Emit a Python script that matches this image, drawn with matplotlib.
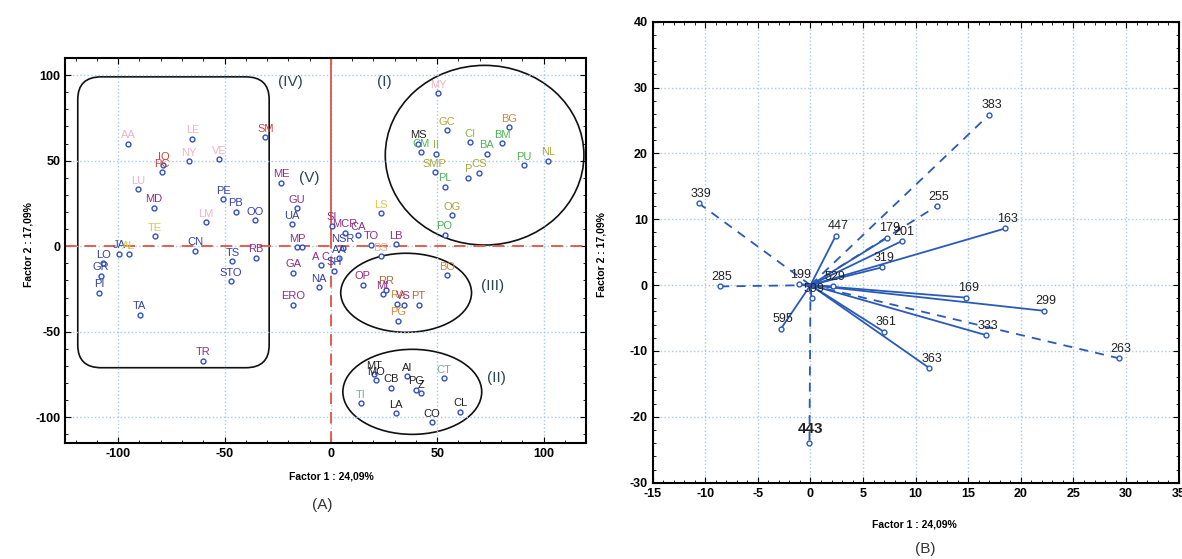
import matplotlib.pyplot as plt
from matplotlib.patches import Ellipse, FancyBboxPatch
from matplotlib.ticker import MultipleLocator

plt.rcParams['font.family'] = ['Liberation Sans', 'DejaVu Sans']
plt.rcParams['axes.unicode_minus'] = False

# ---- panel (A): factor scores of the samples
names_a = ['AA', 'LE', 'SM', 'IO', 'PC', 'NY', 'VE', 'LU', 'MD', 'PE',
           'PB', 'OO', 'LM', 'TE', 'JA', 'AL', 'CN', 'TS', 'RB', 'STO',
           'LO', 'GR', 'PI', 'TA', 'TR', 'ME', 'GU', 'UA', 'MP', '',
           'GA', 'ERO', 'A C', 'NA', 'SI', 'MCR', 'CA', 'TO', 'LB', 'NSR',
           'AA', 'SH', 'BS', 'LS', 'MY', 'BG', 'GC', 'MS', 'CM', 'CI',
           'BM', 'II', 'BA', 'NL', 'PU', 'SMP', 'CS', 'P', 'PL', 'OG',
           'PO', 'BO', 'OP', 'RR', 'MI', 'RA', 'PT', 'VS', 'PG', 'MT',
           'MO', 'AI', 'CB', 'PG', 'Z', 'CT', 'TI', 'LA', 'CO', 'CL']
fx_a = [-95.3, -65.1, -30.8, -78.7, -79.3, -66.8, -52.4, -90.6, -83.1, -50.6,
        -44.7, -35.8, -58.8, -82.6, -99.4, -95.0, -63.7, -46.3, -35.2, -46.9,
        -107.0, -108.0, -108.8, -89.8, -60.2, -23.3, -16.1, -18.3, -15.8, -13.5,
        -17.7, -17.7, -4.5, -5.5, 0.5, 6.6, 12.8, 19.1, 30.5, 5.5,
        4.0, 1.6, 23.5, 23.5, 50.5, 83.7, 54.6, 41.0, 42.6, 65.3,
        80.6, 49.6, 73.2, 102.0, 90.8, 48.8, 69.5, 64.6, 53.7, 57.0,
        53.5, 54.6, 14.9, 26.1, 24.3, 31.3, 41.3, 34.3, 31.6, 20.2,
        21.1, 35.8, 28.3, 40.2, 42.6, 53.0, 14.1, 30.7, 47.4, 60.9]
fy_a = [59.8, 62.8, 63.7, 47.2, 43.3, 49.7, 50.9, 33.2, 22.4, 27.5,
        20.1, 15.2, 14.0, 5.7, -4.3, -4.7, -2.7, -8.8, -6.8, -20.5,
        -10.0, -17.2, -27.3, -40.0, -66.9, 37.0, 22.2, 13.0, -0.6, -0.6,
        -15.6, -34.3, -11.0, -24.0, 12.0, 8.0, 6.3, 0.8, 1.3, -1.0,
        -7.0, -14.2, -5.8, 19.3, 89.5, 69.4, 67.8, 60.0, 55.0, 60.8,
        60.2, 54.0, 54.0, 50.1, 47.2, 43.3, 42.9, 40.0, 34.9, 18.0,
        6.6, -16.8, -22.4, -25.5, -28.2, -33.7, -34.3, -34.1, -43.5, -74.7,
        -78.2, -76.0, -82.6, -83.8, -85.8, -77.0, -91.8, -97.7, -102.9, -96.7]
grp_a = ['pale', 'pale', 'red', 'red', 'red', 'pale', 'pale', 'pale', 'mag', 'blue',
         'blue', 'blue', 'pale', 'yel', 'blue', 'yel', 'blue', 'blue', 'mag', 'blue',
         'blue', 'blue', 'blue', 'blue', 'mag', 'mag', 'mag', 'blue', 'mag', 'mag',
         'mag', 'mag', 'mag', 'blue', 'mag', 'mag', 'mag', 'mag', 'mag', 'blue',
         'blue', 'blue', 'porg', 'yel', 'pale', 'org', 'olive', 'blk', 'grn', 'lime',
         'grn', 'lime', 'grn', 'olive', 'grn', 'olive', 'olive', 'olive', 'grn', 'olive',
         'grn', 'org', 'mag', 'brn', 'mag', 'org', 'brn', 'mag', 'org', 'blk',
         'blk', 'blk', 'blk', 'blk', 'blk', 'teal', 'teal', 'blk', 'blk', 'blk']

# groups drawn on panel (A)
group_names = ['(IV)', '(I)', '(V)', '(III)', '(II)']
group_x = [-19, 25, -10, 76, 78]
group_y = [96, 96, 40, -23, -77]

# ---- panel (B): variable loadings
names_b = ['383', '255', '163', '339', '447', '179', '201', '319', '285', '199',
           '529', '599', '595', '361', '363', '443', '169', '299', '333', '263']
fx_b = [17.0, 12.0, 18.5, -10.6, 2.4, 7.3, 8.7, 6.8, -8.6, -1.1,
        2.1, 0.1, -2.8, 7.0, 11.3, -0.1, 14.8, 22.2, 16.7, 29.3]
fy_b = [25.9, 12.0, 8.6, 12.4, 7.5, 7.2, 6.7, 2.7, -0.2, 0.15,
        -0.2, -2.0, -6.6, -7.1, -12.6, -23.9, -1.9, -3.9, -7.6, -11.1]
dashed_b = [True, True, False, True, False, False, False, False, True, False,
            False, False, False, False, False, True, False, False, False, True]

cols = {'blue': '#3441a6', 'mag': '#8e2f86', 'red': '#c8453a', 'pale': '#eeb4c4',
        'yel': '#d8cc44', 'olive': '#a9a53a', 'grn': '#4db356', 'lime': '#8cbc3a',
        'org': '#d0883a', 'brn': '#b06a3a', 'blk': '#222222', 'teal': '#7fa8a8',
        'porg': '#eab090'}
mk_col = '#3050c0'
grid_col = '#a8c8e8'

fig = plt.figure(figsize=(11.82, 5.59), dpi=100)

# ================= panel A
ax = fig.add_axes([0.055, 0.2075, 0.4408, 0.6887])
ax.set_xlim(-125, 120)
ax.set_ylim(-115, 110)
ax.xaxis.set_major_locator(MultipleLocator(50))
ax.yaxis.set_major_locator(MultipleLocator(50))
ax.xaxis.set_minor_locator(MultipleLocator(10))
ax.yaxis.set_minor_locator(MultipleLocator(10))
ax.grid(True, which='major', color=grid_col, linestyle=':', linewidth=1)
ax.tick_params(which='both', direction='in', top=True, right=True, labelsize=9)
ax.tick_params(which='major', length=4)
ax.tick_params(which='minor', length=2.5)
for lab in ax.get_xticklabels() + ax.get_yticklabels():
    lab.set_fontweight('bold')
for s in ax.spines.values():
    s.set_linewidth(1.5)

ax.axhline(0, color='#e06050', linestyle='--', linewidth=1.4, dashes=(6, 4))
ax.plot([0, 0], [0, 110], color='#e06050', linewidth=1.4)
ax.plot([0, 0], [-115, 0], color='#e06050', linewidth=1.4, linestyle='--', dashes=(6, 4))

# cluster outlines
ax.add_patch(FancyBboxPatch((-119, -71), 90, 170,
                            boxstyle='round,pad=0,rounding_size=11', mutation_aspect=1.2,
                            fill=False, edgecolor='#111111', linewidth=1.2))
ax.add_patch(Ellipse((72.3, 53.2), 93.4, 105, fill=False, edgecolor='#111111', linewidth=1.2))
ax.add_patch(Ellipse((35.4, -27.2), 61.5, 46.2, fill=False, edgecolor='#111111', linewidth=1.2))
ax.add_patch(Ellipse((38.3, -85.1), 65.3, 49.7, fill=False, edgecolor='#111111', linewidth=1.2))

ax.plot(fx_a, fy_a, 'o', markersize=3.5, markerfacecolor='white',
        markeredgecolor=mk_col, markeredgewidth=1.0, linestyle='none')
for n, x, y, g in zip(names_a, fx_a, fy_a, grp_a):
    ax.annotate(n, (x, y), xytext=(0, 2.5), textcoords='offset points',
                ha='center', va='bottom', fontsize=8, color=cols[g])
for n, x, y in zip(group_names, group_x, group_y):
    ax.text(x, y, n, ha='center', va='center', fontsize=11, color='#2a4450')

# ================= panel B
bx = fig.add_axes([0.5522, 0.1365, 0.445, 0.8247])
bx.set_xlim(-15, 35)
bx.set_ylim(-30, 40)
bx.xaxis.set_major_locator(MultipleLocator(5))
bx.yaxis.set_major_locator(MultipleLocator(10))
bx.xaxis.set_minor_locator(MultipleLocator(1))
bx.yaxis.set_minor_locator(MultipleLocator(2))
bx.grid(True, which='major', color=grid_col, linestyle=':', linewidth=1)
bx.tick_params(which='both', direction='in', top=True, right=True, labelsize=9)
bx.tick_params(which='major', length=4)
bx.tick_params(which='minor', length=2.5)
for lab in bx.get_xticklabels() + bx.get_yticklabels():
    lab.set_fontweight('bold')
for s in bx.spines.values():
    s.set_linewidth(1.5)

line_col = '#2a5ab8'
for n, x, y, d in zip(names_b, fx_b, fy_b, dashed_b):
    if d:
        bx.plot([0, x], [0, y], color=line_col, linewidth=1.3, linestyle='--', dashes=(5, 4))
    else:
        bx.plot([0, x], [0, y], color=line_col, linewidth=1.3)
bx.plot(fx_b, fy_b, 'o', markersize=3.5, markerfacecolor='white',
        markeredgecolor=line_col, markeredgewidth=1.0, linestyle='none')
for n, x, y in zip(names_b, fx_b, fy_b):
    if n == '443':
        bx.annotate(n, (x, y), xytext=(1, 5), textcoords='offset points',
                    ha='center', va='bottom', fontsize=11, fontweight='bold', color='#222222')
    else:
        bx.annotate(n, (x, y), xytext=(1.5, 2.5), textcoords='offset points',
                    ha='center', va='bottom', fontsize=9, color='#222222')

# axis titles and panel letters
fig.text(0.280, 0.147, 'Factor 1 : 24,09%', ha='center', va='center', fontsize=7.5, fontweight='bold')
fig.text(0.0237, 0.562, 'Factor 2 : 17,09%', ha='center', va='center', rotation=90, fontsize=7.5, fontweight='bold')
fig.text(0.774, 0.0626, 'Factor 1 : 24,09%', ha='center', va='center', fontsize=7.5, fontweight='bold')
fig.text(0.509, 0.544, 'Factor 2 : 17,09%', ha='center', va='center', rotation=90, fontsize=7.5, fontweight='bold')
fig.text(0.273, 0.0966, '(A)', ha='center', va='center', fontsize=11, color='#333333')
fig.text(0.7826, 0.018, '(B)', ha='center', va='center', fontsize=11, color='#333333')

fig.savefig('out.png', dpi=100)
